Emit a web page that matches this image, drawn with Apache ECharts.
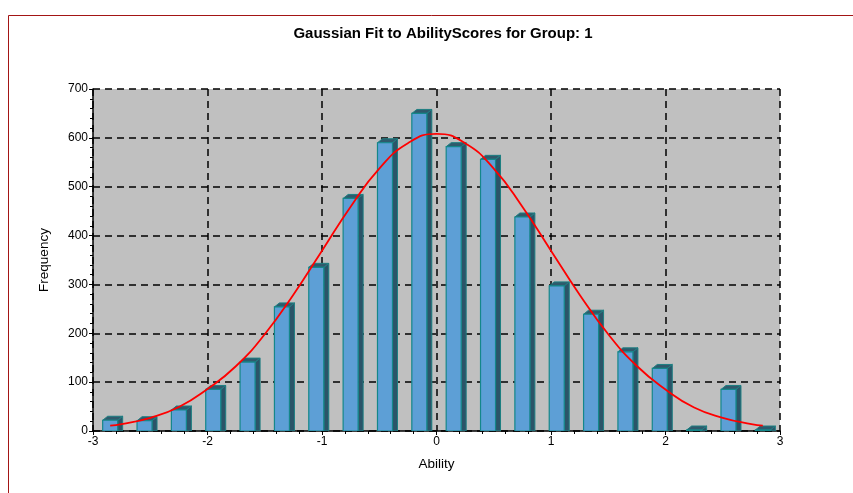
<!DOCTYPE html>
<html><head><meta charset="utf-8">
<script src="https://cdn.jsdelivr.net/npm/echarts@6/dist/echarts.min.js"></script>
<style>html,body{margin:0;padding:0;background:#fff}#c{width:853px;height:493px}</style>
</head><body><div id="c"></div>
<script>
// Bin centres (Ability) and observed frequencies
var binCenters = [-2.85,-2.55,-2.25,-1.95,-1.65,-1.35,-1.05,-0.75,-0.45,-0.15,0.15,0.45,0.75,1.05,1.35,1.65,1.95,2.25,2.55,2.85];
var frequencies = [22,21,43,85,141,254,335,476,590,650,582,556,438,297,239,162,128,2,85,2];
// Fitted Gaussian curve
var curveX = [-2.85,-2.75,-2.5,-2.25,-2,-1.75,-1.5,-1.25,-1,-0.75,-0.5,-0.25,0,0.25,0.5,0.75,1,1.25,1.5,1.75,2,2.25,2.5,2.75,2.85];
var curveY = [11,14,27,49,86,133,198,279,369,459,537,589,608,589,537,459,369,279,198,133,85,48,27,14,11];
var xTicks = [-3,-2,-1,0,1,2,3];
var yTicks = [0,100,200,300,400,500,600,700];

var chart = echarts.init(document.getElementById('c'));
var font = 'Liberation Sans, Arial, sans-serif';
var dash = {color:'#000', width:1.5, type:[7,5]};

function renderBar(params, api){
  var x = api.value(0), v = api.value(1);
  var p0 = api.coord([x, 0]);
  var p1 = api.coord([x, v]);
  var hw = 7.5, dx = 5, dy = 4;
  var l = p0[0]-hw, r = p0[0]+hw, t = p1[1], b = p0[1];
  var cs = params.coordSys;
  var children = [];
  children.push({type:'polygon', shape:{points:[[r,t],[r+dx,t-dy],[r+dx,b],[r,b]]},
    style:{fill:'#2b5468', stroke:'#1d7f82', lineWidth:1}});
  children.push({type:'polygon', shape:{points:[[l,t],[l+dx,t-dy],[r+dx,t-dy],[r,t]]},
    style:{fill:'#2f5a6c', stroke:'#1d7f82', lineWidth:1}});
  if (b - t > 0.5) {
    children.push({type:'rect', shape:{x:l, y:t, width:2*hw, height:b-t},
      style:{fill:'#5d9fd6', stroke:'#14878a', lineWidth:1.2}});
  }
  return {type:'group', children:children,
    clipPath:{type:'rect', shape:{x:cs.x, y:cs.y-10, width:cs.width+10, height:cs.height+10}}};
}

chart.setOption({
  animation:false,
  backgroundColor:'#fff',
  title:{text:'Gaussian Fit to AbilityScores for Group: 1', left:438, top:21, textAlign:'center',
    textStyle:{fontFamily:font, fontSize:15, fontWeight:'bold', color:'#000'}},
  graphic:[{type:'rect', shape:{x:8.5, y:15.5, width:900, height:600},
    style:{fill:'none', stroke:'#a31515', lineWidth:1}, silent:true}],
  grid:{left:93, top:89, right:73, bottom:62, show:true, backgroundColor:'#c0c0c0', borderWidth:0},
  xAxis:{type:'value', min:xTicks[0], max:xTicks[xTicks.length-1], interval:1,
    name:'Ability', nameLocation:'middle', nameGap:26,
    nameTextStyle:{fontFamily:font, fontSize:13.5, color:'#000'},
    axisLine:{show:true, onZero:false, lineStyle:{color:'#000', width:1.5}},
    axisTick:{show:true, length:4, lineStyle:{color:'#000'}},
    minorTick:{show:true, splitNumber:5, length:3, lineStyle:{color:'#000'}},
    axisLabel:{fontFamily:font, fontSize:12, color:'#000', margin:5},
    splitLine:{show:true, lineStyle:dash}},
  yAxis:{type:'value', min:yTicks[0], max:yTicks[yTicks.length-1], interval:100,
    name:'Frequency', nameLocation:'middle', nameGap:42, nameRotate:90,
    nameTextStyle:{fontFamily:font, fontSize:13.5, color:'#000'},
    axisLine:{show:true, onZero:false, lineStyle:{color:'#000', width:1.5}},
    axisTick:{show:true, length:4, lineStyle:{color:'#000'}},
    minorTick:{show:true, splitNumber:5, length:3, lineStyle:{color:'#000'}},
    axisLabel:{fontFamily:font, fontSize:12, color:'#000', margin:5},
    splitLine:{show:true, lineStyle:dash}},
  series:[
    {type:'custom', renderItem:renderBar, data:binCenters.map(function(x,i){return [x, frequencies[i]];}), z:2},
    {type:'line', data:curveX.map(function(x,i){return [x, curveY[i]];}), smooth:true, showSymbol:false,
      lineStyle:{color:'#ff0000', width:1.8}, z:3}
  ]
});
</script></body></html>
